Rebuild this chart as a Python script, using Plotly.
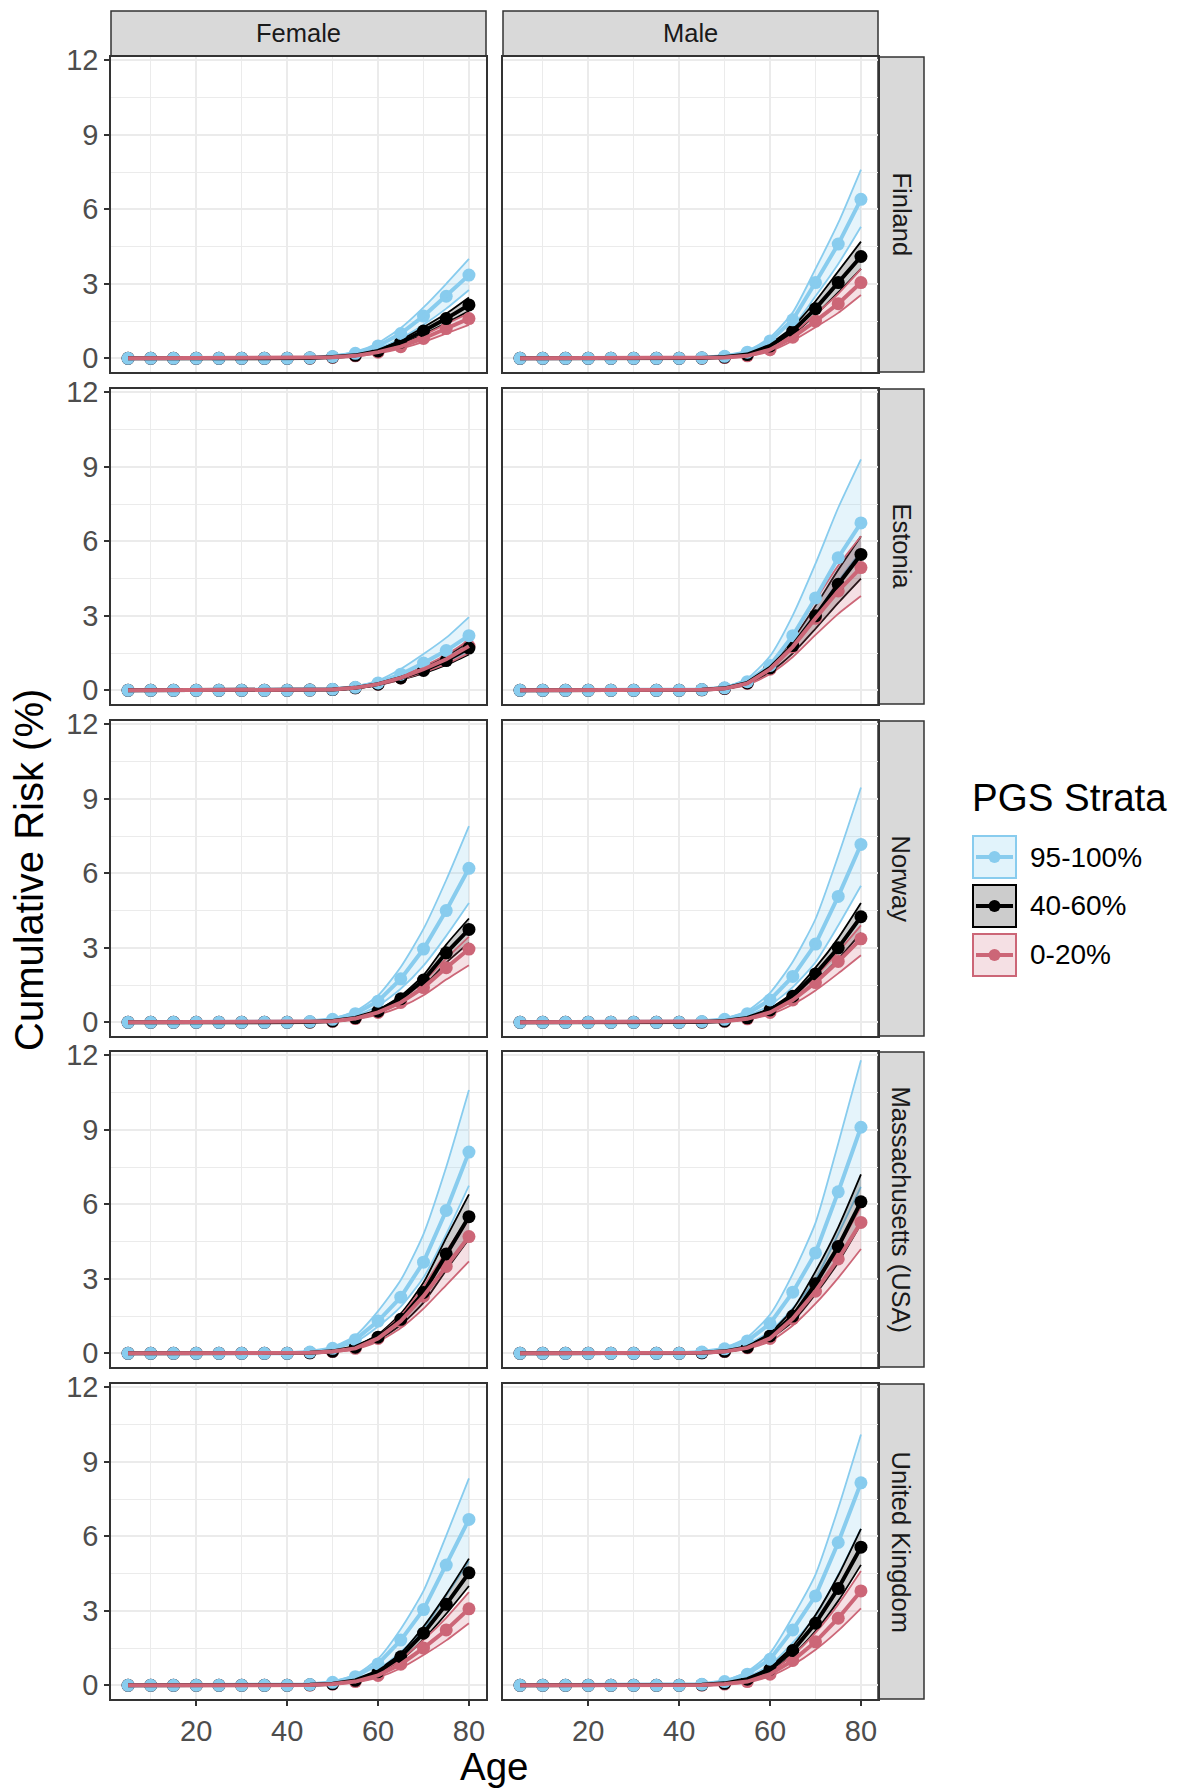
import plotly.graph_objects as go

# ---------------- data ----------------
ages = [5, 10, 15, 20, 25, 30, 35, 40, 45, 50, 55, 60, 65, 70, 75, 80]
sexes = ["Female", "Male"]
countries = ["Finland", "Estonia", "Norway", "Massachusetts (USA)", "United Kingdom"]
strata = ["95-100%", "40-60%", "0-20%"]
x_ticks = [20, 40, 60, 80]
y_ticks = [0, 3, 6, 9, 12]

# Finland - Female
fin_f_top = [0, 0, 0, 0, 0, 0, 0, 0, 0.02, 0.07, 0.20, 0.50, 1.00, 1.70, 2.50, 3.35]
fin_f_top_lo = [0, 0, 0, 0, 0, 0, 0, 0, 0.01, 0.05, 0.15, 0.40, 0.80, 1.35, 2.00, 2.75]
fin_f_top_hi = [0, 0, 0, 0, 0, 0, 0, 0, 0.03, 0.10, 0.27, 0.62, 1.22, 2.05, 3.00, 4.00]
fin_f_mid = [0, 0, 0, 0, 0, 0, 0, 0, 0.01, 0.05, 0.12, 0.30, 0.65, 1.10, 1.60, 2.15]
fin_f_mid_lo = [0, 0, 0, 0, 0, 0, 0, 0, 0.01, 0.04, 0.10, 0.26, 0.57, 0.97, 1.42, 1.90]
fin_f_mid_hi = [0, 0, 0, 0, 0, 0, 0, 0, 0.02, 0.06, 0.14, 0.35, 0.74, 1.25, 1.80, 2.45]
fin_f_low = [0, 0, 0, 0, 0, 0, 0, 0, 0.01, 0.04, 0.10, 0.25, 0.47, 0.80, 1.20, 1.60]
fin_f_low_lo = [0, 0, 0, 0, 0, 0, 0, 0, 0.01, 0.03, 0.08, 0.20, 0.39, 0.66, 1.00, 1.35]
fin_f_low_hi = [0, 0, 0, 0, 0, 0, 0, 0, 0.01, 0.05, 0.12, 0.30, 0.55, 0.93, 1.38, 1.82]

# Finland - Male
fin_m_top = [0, 0, 0, 0, 0, 0, 0, 0, 0.02, 0.08, 0.25, 0.70, 1.55, 3.05, 4.60, 6.40]
fin_m_top_lo = [0, 0, 0, 0, 0, 0, 0, 0, 0.01, 0.06, 0.20, 0.57, 1.27, 2.50, 3.80, 5.30]
fin_m_top_hi = [0, 0, 0, 0, 0, 0, 0, 0, 0.03, 0.10, 0.31, 0.84, 1.85, 3.60, 5.45, 7.60]
fin_m_mid = [0, 0, 0, 0, 0, 0, 0, 0, 0.01, 0.05, 0.15, 0.50, 1.10, 2.00, 3.05, 4.10]
fin_m_mid_lo = [0, 0, 0, 0, 0, 0, 0, 0, 0.01, 0.04, 0.13, 0.43, 0.96, 1.75, 2.65, 3.60]
fin_m_mid_hi = [0, 0, 0, 0, 0, 0, 0, 0, 0.02, 0.06, 0.18, 0.58, 1.27, 2.30, 3.50, 4.70]
fin_m_low = [0, 0, 0, 0, 0, 0, 0, 0, 0.01, 0.03, 0.10, 0.35, 0.85, 1.50, 2.20, 3.05]
fin_m_low_lo = [0, 0, 0, 0, 0, 0, 0, 0, 0.01, 0.02, 0.08, 0.29, 0.71, 1.25, 1.83, 2.55]
fin_m_low_hi = [0, 0, 0, 0, 0, 0, 0, 0, 0.01, 0.04, 0.12, 0.41, 1.00, 1.77, 2.60, 3.60]

# Estonia - Female
est_f_top = [0, 0, 0, 0, 0, 0, 0, 0, 0.01, 0.04, 0.12, 0.30, 0.65, 1.10, 1.60, 2.20]
est_f_top_lo = [0, 0, 0, 0, 0, 0, 0, 0, 0.01, 0.03, 0.09, 0.22, 0.47, 0.80, 1.16, 1.60]
est_f_top_hi = [0, 0, 0, 0, 0, 0, 0, 0, 0.02, 0.06, 0.16, 0.40, 0.86, 1.46, 2.12, 2.95]
est_f_mid = [0, 0, 0, 0, 0, 0, 0, 0, 0.01, 0.03, 0.10, 0.25, 0.50, 0.80, 1.20, 1.70]
est_f_mid_lo = [0, 0, 0, 0, 0, 0, 0, 0, 0.01, 0.02, 0.08, 0.21, 0.43, 0.68, 1.02, 1.45]
est_f_mid_hi = [0, 0, 0, 0, 0, 0, 0, 0, 0.01, 0.04, 0.12, 0.29, 0.58, 0.92, 1.38, 1.95]
est_f_low = [0, 0, 0, 0, 0, 0, 0, 0, 0.01, 0.03, 0.10, 0.25, 0.50, 0.85, 1.25, 1.78]
est_f_low_lo = [0, 0, 0, 0, 0, 0, 0, 0, 0.01, 0.02, 0.08, 0.21, 0.43, 0.72, 1.06, 1.50]
est_f_low_hi = [0, 0, 0, 0, 0, 0, 0, 0, 0.01, 0.04, 0.12, 0.29, 0.57, 0.97, 1.43, 2.03]

# Estonia - Male
est_m_top = [0, 0, 0, 0, 0, 0, 0, 0, 0.03, 0.10, 0.35, 1.00, 2.20, 3.72, 5.34, 6.74]
est_m_top_lo = [0, 0, 0, 0, 0, 0, 0, 0, 0.02, 0.08, 0.28, 0.80, 1.78, 3.03, 4.40, 5.60]
est_m_top_hi = [0, 0, 0, 0, 0, 0, 0, 0, 0.04, 0.14, 0.48, 1.38, 3.02, 5.10, 7.35, 9.30]
est_m_mid = [0, 0, 0, 0, 0, 0, 0, 0, 0.02, 0.08, 0.30, 0.90, 1.80, 3.00, 4.27, 5.47]
est_m_mid_lo = [0, 0, 0, 0, 0, 0, 0, 0, 0.01, 0.06, 0.25, 0.74, 1.49, 2.48, 3.52, 4.50]
est_m_mid_hi = [0, 0, 0, 0, 0, 0, 0, 0, 0.03, 0.10, 0.35, 1.03, 2.05, 3.40, 4.85, 6.20]
est_m_low = [0, 0, 0, 0, 0, 0, 0, 0, 0.02, 0.07, 0.28, 0.85, 1.75, 2.90, 4.00, 4.94]
est_m_low_lo = [0, 0, 0, 0, 0, 0, 0, 0, 0.01, 0.05, 0.22, 0.66, 1.34, 2.23, 3.08, 3.80]
est_m_low_hi = [0, 0, 0, 0, 0, 0, 0, 0, 0.03, 0.09, 0.35, 1.07, 2.20, 3.64, 5.02, 6.20]

# Norway - Female
nor_f_top = [0, 0, 0, 0, 0, 0, 0, 0, 0.03, 0.12, 0.35, 0.85, 1.75, 2.95, 4.50, 6.20]
nor_f_top_lo = [0, 0, 0, 0, 0, 0, 0, 0, 0.02, 0.09, 0.27, 0.66, 1.35, 2.28, 3.48, 4.80]
nor_f_top_hi = [0, 0, 0, 0, 0, 0, 0, 0, 0.04, 0.15, 0.45, 1.08, 2.23, 3.76, 5.73, 7.90]
nor_f_mid = [0, 0, 0, 0, 0, 0, 0, 0, 0.01, 0.05, 0.18, 0.45, 0.95, 1.70, 2.80, 3.74]
nor_f_mid_lo = [0, 0, 0, 0, 0, 0, 0, 0, 0.01, 0.04, 0.15, 0.38, 0.81, 1.45, 2.40, 3.20]
nor_f_mid_hi = [0, 0, 0, 0, 0, 0, 0, 0, 0.02, 0.06, 0.20, 0.50, 1.06, 1.90, 3.13, 4.18]
nor_f_low = [0, 0, 0, 0, 0, 0, 0, 0, 0.01, 0.04, 0.15, 0.40, 0.80, 1.40, 2.20, 2.95]
nor_f_low_lo = [0, 0, 0, 0, 0, 0, 0, 0, 0.01, 0.03, 0.12, 0.31, 0.62, 1.09, 1.72, 2.30]
nor_f_low_hi = [0, 0, 0, 0, 0, 0, 0, 0, 0.01, 0.05, 0.18, 0.47, 0.94, 1.64, 2.57, 3.45]

# Norway - Male
nor_m_top = [0, 0, 0, 0, 0, 0, 0, 0, 0.03, 0.12, 0.35, 0.90, 1.85, 3.15, 5.07, 7.16]
nor_m_top_lo = [0, 0, 0, 0, 0, 0, 0, 0, 0.02, 0.09, 0.27, 0.69, 1.42, 2.42, 3.90, 5.50]
nor_m_top_hi = [0, 0, 0, 0, 0, 0, 0, 0, 0.04, 0.16, 0.46, 1.19, 2.44, 4.16, 6.70, 9.45]
nor_m_mid = [0, 0, 0, 0, 0, 0, 0, 0, 0.01, 0.05, 0.18, 0.50, 1.05, 1.95, 3.00, 4.25]
nor_m_mid_lo = [0, 0, 0, 0, 0, 0, 0, 0, 0.01, 0.04, 0.15, 0.42, 0.89, 1.65, 2.54, 3.60]
nor_m_mid_hi = [0, 0, 0, 0, 0, 0, 0, 0, 0.02, 0.06, 0.20, 0.56, 1.19, 2.20, 3.39, 4.80]
nor_m_low = [0, 0, 0, 0, 0, 0, 0, 0, 0.01, 0.04, 0.14, 0.40, 0.90, 1.60, 2.45, 3.36]
nor_m_low_lo = [0, 0, 0, 0, 0, 0, 0, 0, 0.01, 0.03, 0.11, 0.32, 0.72, 1.28, 1.97, 2.70]
nor_m_low_hi = [0, 0, 0, 0, 0, 0, 0, 0, 0.01, 0.05, 0.16, 0.46, 1.04, 1.86, 2.84, 3.90]

# Massachusetts (USA) - Female
mas_f_top = [0, 0, 0, 0, 0, 0, 0, 0, 0.05, 0.20, 0.55, 1.30, 2.26, 3.67, 5.75, 8.10]
mas_f_top_lo = [0, 0, 0, 0, 0, 0, 0, 0, 0.04, 0.16, 0.45, 1.08, 1.88, 3.05, 4.80, 6.75]
mas_f_top_hi = [0, 0, 0, 0, 0, 0, 0, 0, 0.07, 0.26, 0.71, 1.70, 2.95, 4.80, 7.50, 10.60]
mas_f_mid = [0, 0, 0, 0, 0, 0, 0, 0, 0.02, 0.08, 0.25, 0.65, 1.37, 2.45, 4.00, 5.50]
mas_f_mid_lo = [0, 0, 0, 0, 0, 0, 0, 0, 0.02, 0.07, 0.21, 0.54, 1.14, 2.04, 3.35, 4.60]
mas_f_mid_hi = [0, 0, 0, 0, 0, 0, 0, 0, 0.03, 0.09, 0.29, 0.76, 1.60, 2.85, 4.65, 6.40]
mas_f_low = [0, 0, 0, 0, 0, 0, 0, 0, 0.02, 0.07, 0.20, 0.60, 1.30, 2.30, 3.50, 4.70]
mas_f_low_lo = [0, 0, 0, 0, 0, 0, 0, 0, 0.01, 0.05, 0.16, 0.47, 1.02, 1.80, 2.75, 3.70]
mas_f_low_hi = [0, 0, 0, 0, 0, 0, 0, 0, 0.02, 0.08, 0.23, 0.70, 1.52, 2.70, 4.10, 5.50]

# Massachusetts (USA) - Male
mas_m_top = [0, 0, 0, 0, 0, 0, 0, 0, 0.05, 0.18, 0.50, 1.20, 2.46, 4.04, 6.50, 9.10]
mas_m_top_lo = [0, 0, 0, 0, 0, 0, 0, 0, 0.04, 0.13, 0.37, 0.88, 1.82, 2.98, 4.80, 6.70]
mas_m_top_hi = [0, 0, 0, 0, 0, 0, 0, 0, 0.07, 0.23, 0.65, 1.56, 3.20, 5.25, 8.45, 11.80]
mas_m_mid = [0, 0, 0, 0, 0, 0, 0, 0, 0.02, 0.08, 0.25, 0.70, 1.50, 2.80, 4.30, 6.10]
mas_m_mid_lo = [0, 0, 0, 0, 0, 0, 0, 0, 0.02, 0.07, 0.21, 0.60, 1.28, 2.38, 3.66, 5.20]
mas_m_mid_hi = [0, 0, 0, 0, 0, 0, 0, 0, 0.03, 0.09, 0.30, 0.83, 1.77, 3.30, 5.07, 7.20]
mas_m_low = [0, 0, 0, 0, 0, 0, 0, 0, 0.02, 0.07, 0.22, 0.60, 1.40, 2.50, 3.80, 5.27]
mas_m_low_lo = [0, 0, 0, 0, 0, 0, 0, 0, 0.01, 0.06, 0.18, 0.48, 1.12, 2.00, 3.04, 4.20]
mas_m_low_hi = [0, 0, 0, 0, 0, 0, 0, 0, 0.02, 0.08, 0.25, 0.68, 1.57, 2.80, 4.26, 5.90]

# United Kingdom - Female
uk_f_top = [0, 0, 0, 0, 0, 0, 0, 0, 0.03, 0.12, 0.35, 0.86, 1.82, 3.05, 4.84, 6.68]
uk_f_top_lo = [0, 0, 0, 0, 0, 0, 0, 0, 0.02, 0.09, 0.26, 0.64, 1.36, 2.28, 3.62, 5.00]
uk_f_top_hi = [0, 0, 0, 0, 0, 0, 0, 0, 0.04, 0.15, 0.43, 1.07, 2.27, 3.80, 6.03, 8.33]
uk_f_mid = [0, 0, 0, 0, 0, 0, 0, 0, 0.02, 0.06, 0.20, 0.55, 1.15, 2.10, 3.26, 4.53]
uk_f_mid_lo = [0, 0, 0, 0, 0, 0, 0, 0, 0.01, 0.05, 0.18, 0.49, 1.02, 1.85, 2.88, 4.00]
uk_f_mid_hi = [0, 0, 0, 0, 0, 0, 0, 0, 0.02, 0.07, 0.23, 0.62, 1.30, 2.37, 3.67, 5.10]
uk_f_low = [0, 0, 0, 0, 0, 0, 0, 0, 0.01, 0.05, 0.15, 0.40, 0.85, 1.50, 2.23, 3.08]
uk_f_low_lo = [0, 0, 0, 0, 0, 0, 0, 0, 0.01, 0.04, 0.12, 0.32, 0.69, 1.22, 1.81, 2.50]
uk_f_low_hi = [0, 0, 0, 0, 0, 0, 0, 0, 0.01, 0.06, 0.18, 0.49, 1.04, 1.83, 2.72, 3.75]

# United Kingdom - Male
uk_m_top = [0, 0, 0, 0, 0, 0, 0, 0, 0.04, 0.15, 0.45, 1.05, 2.23, 3.60, 5.75, 8.15]
uk_m_top_lo = [0, 0, 0, 0, 0, 0, 0, 0, 0.03, 0.12, 0.35, 0.81, 1.72, 2.78, 4.45, 6.30]
uk_m_top_hi = [0, 0, 0, 0, 0, 0, 0, 0, 0.05, 0.19, 0.56, 1.30, 2.77, 4.46, 7.13, 10.10]
uk_m_mid = [0, 0, 0, 0, 0, 0, 0, 0, 0.02, 0.08, 0.25, 0.65, 1.40, 2.50, 3.90, 5.56]
uk_m_mid_lo = [0, 0, 0, 0, 0, 0, 0, 0, 0.02, 0.07, 0.22, 0.57, 1.22, 2.18, 3.40, 4.85]
uk_m_mid_hi = [0, 0, 0, 0, 0, 0, 0, 0, 0.03, 0.09, 0.28, 0.74, 1.59, 2.83, 4.42, 6.30]
uk_m_low = [0, 0, 0, 0, 0, 0, 0, 0, 0.01, 0.05, 0.15, 0.45, 1.00, 1.75, 2.70, 3.80]
uk_m_low_lo = [0, 0, 0, 0, 0, 0, 0, 0, 0.01, 0.04, 0.12, 0.37, 0.82, 1.43, 2.20, 3.10]
uk_m_low_hi = [0, 0, 0, 0, 0, 0, 0, 0, 0.01, 0.06, 0.18, 0.54, 1.21, 2.12, 3.26, 4.60]

# (country, sex) -> {stratum: (mean, lower, upper)}
panel_data = {
    ("Finland", "Female"): {"95-100%": (fin_f_top, fin_f_top_lo, fin_f_top_hi),
                            "40-60%": (fin_f_mid, fin_f_mid_lo, fin_f_mid_hi),
                            "0-20%": (fin_f_low, fin_f_low_lo, fin_f_low_hi)},
    ("Finland", "Male"): {"95-100%": (fin_m_top, fin_m_top_lo, fin_m_top_hi),
                          "40-60%": (fin_m_mid, fin_m_mid_lo, fin_m_mid_hi),
                          "0-20%": (fin_m_low, fin_m_low_lo, fin_m_low_hi)},
    ("Estonia", "Female"): {"95-100%": (est_f_top, est_f_top_lo, est_f_top_hi),
                            "40-60%": (est_f_mid, est_f_mid_lo, est_f_mid_hi),
                            "0-20%": (est_f_low, est_f_low_lo, est_f_low_hi)},
    ("Estonia", "Male"): {"95-100%": (est_m_top, est_m_top_lo, est_m_top_hi),
                          "40-60%": (est_m_mid, est_m_mid_lo, est_m_mid_hi),
                          "0-20%": (est_m_low, est_m_low_lo, est_m_low_hi)},
    ("Norway", "Female"): {"95-100%": (nor_f_top, nor_f_top_lo, nor_f_top_hi),
                           "40-60%": (nor_f_mid, nor_f_mid_lo, nor_f_mid_hi),
                           "0-20%": (nor_f_low, nor_f_low_lo, nor_f_low_hi)},
    ("Norway", "Male"): {"95-100%": (nor_m_top, nor_m_top_lo, nor_m_top_hi),
                         "40-60%": (nor_m_mid, nor_m_mid_lo, nor_m_mid_hi),
                         "0-20%": (nor_m_low, nor_m_low_lo, nor_m_low_hi)},
    ("Massachusetts (USA)", "Female"): {"95-100%": (mas_f_top, mas_f_top_lo, mas_f_top_hi),
                                        "40-60%": (mas_f_mid, mas_f_mid_lo, mas_f_mid_hi),
                                        "0-20%": (mas_f_low, mas_f_low_lo, mas_f_low_hi)},
    ("Massachusetts (USA)", "Male"): {"95-100%": (mas_m_top, mas_m_top_lo, mas_m_top_hi),
                                      "40-60%": (mas_m_mid, mas_m_mid_lo, mas_m_mid_hi),
                                      "0-20%": (mas_m_low, mas_m_low_lo, mas_m_low_hi)},
    ("United Kingdom", "Female"): {"95-100%": (uk_f_top, uk_f_top_lo, uk_f_top_hi),
                                   "40-60%": (uk_f_mid, uk_f_mid_lo, uk_f_mid_hi),
                                   "0-20%": (uk_f_low, uk_f_low_lo, uk_f_low_hi)},
    ("United Kingdom", "Male"): {"95-100%": (uk_m_top, uk_m_top_lo, uk_m_top_hi),
                                 "40-60%": (uk_m_mid, uk_m_mid_lo, uk_m_mid_hi),
                                 "0-20%": (uk_m_low, uk_m_low_lo, uk_m_low_hi)},
}

# ---------------- style ----------------
W, H = 1181, 1792
colors = {"95-100%": "#88CCEE", "40-60%": "#000000", "0-20%": "#CC6677"}
fills = {"95-100%": "rgba(136,204,238,0.22)", "40-60%": "rgba(0,0,0,0.2)",
         "0-20%": "rgba(204,102,119,0.2)"}
key_fills = {"95-100%": "#E1F3FB", "40-60%": "#CCCCCC", "0-20%": "#F5E0E4"}
FONT = "Liberation Sans, Arial, Helvetica, sans-serif"
BORDER = "#333333"
GRID = "#EBEBEB"

col_px = [(111, 486), (503, 878)]
row_px = [(57, 372), (389, 704), (721, 1036), (1052, 1367), (1384, 1699)]
strip_top_px = (11, 56)
strip_right_px = (878, 924)


def px_x(v):
    return v / W


def px_y(v):
    return 1 - v / H


fig = go.Figure()
layout_axes = {}

for r, country in enumerate(countries):
    for c, sex in enumerate(sexes):
        n = r * 2 + c + 1
        xa = "x" if n == 1 else f"x{n}"
        ya = "y" if n == 1 else f"y{n}"
        d = panel_data[(country, sex)]
        # ribbons (lower edge + upper edge filled)
        for s in strata:
            mean, lo, hi = d[s]
            fig.add_trace(go.Scatter(x=ages, y=lo, mode="lines", xaxis=xa, yaxis=ya,
                                     line=dict(color=colors[s], width=1.8, shape="spline", smoothing=0.6),
                                     showlegend=False, hoverinfo="skip"))
            fig.add_trace(go.Scatter(x=ages, y=hi, mode="lines", xaxis=xa, yaxis=ya,
                                     line=dict(color=colors[s], width=1.8, shape="spline", smoothing=0.6),
                                     fill="tonexty", fillcolor=fills[s],
                                     showlegend=False, hoverinfo="skip"))
        # points (red, black, blue -> blue on top)
        for s in reversed(strata):
            mean = d[s][0]
            fig.add_trace(go.Scatter(x=ages, y=mean, mode="markers", xaxis=xa, yaxis=ya,
                                     marker=dict(color=colors[s], size=13),
                                     showlegend=False, name=s))
        # mean lines (red on top)
        for s in strata:
            mean = d[s][0]
            fig.add_trace(go.Scatter(x=ages, y=mean, mode="lines", xaxis=xa, yaxis=ya,
                                     line=dict(color=colors[s], width=4),
                                     showlegend=False, name=s))

        x0, x1 = col_px[c]
        y0, y1 = row_px[r]
        bottom = (r == len(countries) - 1)
        left = (c == 0)
        xkey = "xaxis" if n == 1 else f"xaxis{n}"
        ykey = "yaxis" if n == 1 else f"yaxis{n}"
        layout_axes[xkey] = dict(
            domain=[px_x(x0), px_x(x1)], anchor=ya, range=[1.25, 83.75],
            automargin=False,
            tickvals=x_ticks, ticktext=[str(v) for v in x_ticks],
            showticklabels=bottom, ticks="outside" if bottom else "",
            ticklen=5, tickwidth=1.5, tickcolor=BORDER,
            tickfont=dict(family=FONT, size=29, color="#4D4D4D"),
            showgrid=True, gridcolor=GRID, gridwidth=2, zeroline=False,
            minor=dict(tickvals=[10, 30, 50, 70], showgrid=True, gridcolor=GRID,
                       gridwidth=1, ticks=""),
            showline=True, mirror=True, linecolor=BORDER, linewidth=1.5,
        )
        layout_axes[ykey] = dict(
            domain=[px_y(y1), px_y(y0)], anchor=xa, range=[-0.55, 12.13],
            automargin=False,
            tickvals=y_ticks, ticktext=[str(v) for v in y_ticks],
            showticklabels=left, ticks="outside" if left else "",
            ticklen=5, tickwidth=1.5, tickcolor=BORDER,
            tickfont=dict(family=FONT, size=29, color="#4D4D4D"),
            showgrid=True, gridcolor=GRID, gridwidth=2, zeroline=False,
            minor=dict(tickvals=[1.5, 4.5, 7.5, 10.5], showgrid=True, gridcolor=GRID,
                       gridwidth=1, ticks=""),
            showline=True, mirror=True, linecolor=BORDER, linewidth=1.5,
        )

shapes = []
annotations = []

# top strips
for c, sex in enumerate(sexes):
    x0, x1 = col_px[c]
    shapes.append(dict(type="rect", xref="paper", yref="paper",
                       x0=px_x(x0), x1=px_x(x1), y0=px_y(strip_top_px[1]), y1=px_y(strip_top_px[0]),
                       fillcolor="#D9D9D9", line=dict(color=BORDER, width=1.5), layer="below"))
    annotations.append(dict(text=sex, xref="paper", yref="paper",
                            x=px_x((x0 + x1) / 2), y=px_y(sum(strip_top_px) / 2),
                            showarrow=False, xanchor="center", yanchor="middle",
                            font=dict(family=FONT, size=25.5, color="#1A1A1A")))

# right strips
for r, country in enumerate(countries):
    y0, y1 = row_px[r]
    shapes.append(dict(type="rect", xref="paper", yref="paper",
                       x0=px_x(strip_right_px[0]), x1=px_x(strip_right_px[1]),
                       y0=px_y(y1), y1=px_y(y0),
                       fillcolor="#D9D9D9", line=dict(color=BORDER, width=1.5), layer="below"))
    annotations.append(dict(text=country, xref="paper", yref="paper",
                            x=px_x(sum(strip_right_px) / 2), y=px_y((y0 + y1) / 2),
                            showarrow=False, textangle=90, xanchor="center", yanchor="middle",
                            font=dict(family=FONT, size=25.5, color="#1A1A1A")))

# axis titles
annotations.append(dict(text="Age", xref="paper", yref="paper",
                        x=px_x((col_px[0][0] + col_px[1][1]) / 2), y=px_y(1766),
                        showarrow=False, xanchor="center", yanchor="middle",
                        font=dict(family=FONT, size=38.5, color="#000000")))
annotations.append(dict(text="Cumulative Risk (%)", xref="paper", yref="paper",
                        x=px_x(29), y=px_y((row_px[0][0] + row_px[-1][1]) / 2 - 8),
                        showarrow=False, textangle=-90, xanchor="center", yanchor="middle",
                        font=dict(family=FONT, size=40, color="#000000")))

# legend (drawn as ggplot-style keys)
annotations.append(dict(text="PGS Strata", xref="paper", yref="paper",
                        x=px_x(970), y=px_y(797), showarrow=False,
                        xanchor="left", yanchor="middle",
                        font=dict(family=FONT, size=38.5, color="#000000")))
key_centers = [857, 906, 955]
kx0, kx1 = 973, 1016
for s, cy in zip(strata, key_centers):
    shapes.append(dict(type="rect", xref="paper", yref="paper",
                       x0=px_x(kx0), x1=px_x(kx1), y0=px_y(cy + 21), y1=px_y(cy - 21),
                       fillcolor=key_fills[s], line=dict(color=colors[s], width=2)))
    shapes.append(dict(type="line", xref="paper", yref="paper",
                       x0=px_x(kx0 + 3), x1=px_x(kx1 - 3), y0=px_y(cy), y1=px_y(cy),
                       line=dict(color=colors[s], width=4)))
    shapes.append(dict(type="circle", xref="paper", yref="paper",
                       x0=px_x((kx0 + kx1) / 2 - 6), x1=px_x((kx0 + kx1) / 2 + 6),
                       y0=px_y(cy + 6), y1=px_y(cy - 6),
                       fillcolor=colors[s], line=dict(color=colors[s], width=0)))
    annotations.append(dict(text=s, xref="paper", yref="paper",
                            x=px_x(1028), y=px_y(cy), showarrow=False,
                            xanchor="left", yanchor="middle",
                            font=dict(family=FONT, size=28, color="#000000")))

fig.update_layout(
    width=W, height=H,
    margin=dict(l=0, r=0, t=0, b=0, autoexpand=False),
    paper_bgcolor="white", plot_bgcolor="white",
    showlegend=False,
    shapes=shapes, annotations=annotations,
    font=dict(family=FONT),
    **layout_axes,
)

fig.write_html("out.html")
